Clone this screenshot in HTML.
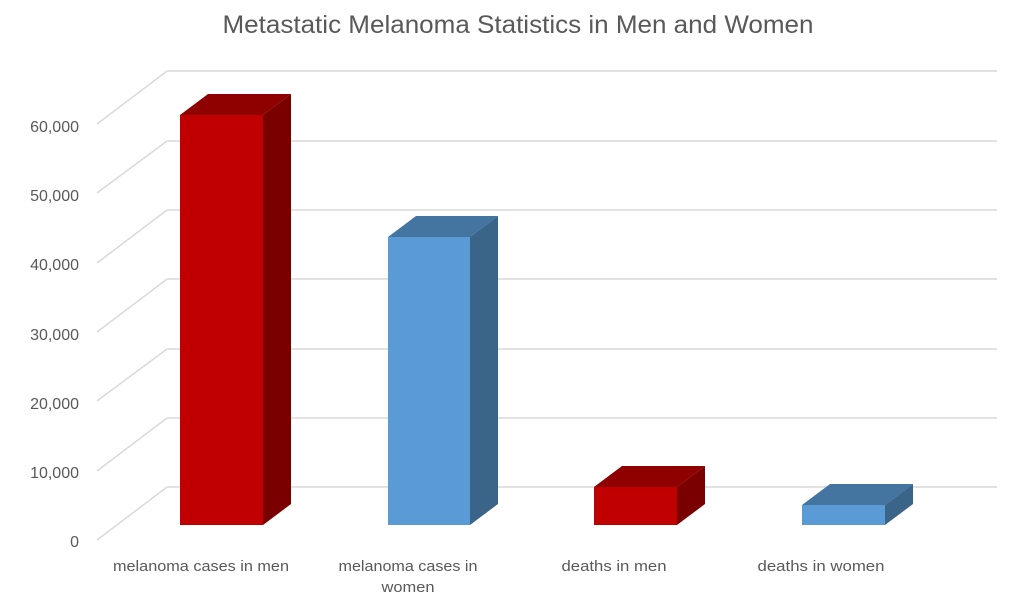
<!DOCTYPE html>
<html><head><meta charset="utf-8"><style>
html,body{margin:0;padding:0;background:#fff;}
svg{display:block;}
text{font-family:"Liberation Sans",sans-serif;fill:#595959;}
</style></head><body>
<svg width="1024" height="596" viewBox="0 0 1024 596" xmlns="http://www.w3.org/2000/svg">
<rect width="1024" height="596" fill="#fff"/>
<text x="518" y="33" font-size="25" text-anchor="middle" textLength="591" lengthAdjust="spacingAndGlyphs">Metastatic Melanoma Statistics in Men and Women</text>
<g stroke="#d9d9d9" stroke-width="1.5" fill="none">
<path d="M167 71H997M167 141H997M167 210H997M167 279H997M167 349H997M167 418H997M167 487H997"/>
<path d="M97 124L167 71M97 193L167 141M97 263L167 210M97 332L167 279M97 401L167 349M97 471L167 418M97 540L167 487"/>
</g>
<g font-size="16" text-anchor="end">
<text x="79" y="132">60,000</text>
<text x="79" y="201">50,000</text>
<text x="79" y="270">40,000</text>
<text x="79" y="340">30,000</text>
<text x="79" y="409">20,000</text>
<text x="79" y="478">10,000</text>
<text x="79" y="547">0</text>
</g>
<!-- bar1 -->
<polygon points="180,115 208,94 291,94 263,115" fill="#8f0000"/>
<polygon points="263,115 291,94 291,504 263,525" fill="#7a0000"/>
<rect x="180" y="115" width="83" height="410" fill="#c00000"/>
<!-- bar2 -->
<polygon points="388,237 416,216 498,216 470,237" fill="#4474a0"/>
<polygon points="470,237 498,216 498,504 470,525" fill="#3a6589"/>
<rect x="388" y="237" width="82" height="288" fill="#5b9bd5"/>
<!-- bar3 -->
<polygon points="594,487 622,466 705,466 677,487" fill="#8f0000"/>
<polygon points="677,487 705,466 705,504 677,525" fill="#7a0000"/>
<rect x="594" y="487" width="83" height="38" fill="#c00000"/>
<!-- bar4 -->
<polygon points="802,505 830,484 913,484 885,505" fill="#4474a0"/>
<polygon points="885,505 913,484 913,504 885,525" fill="#3a6589"/>
<rect x="802" y="505" width="83" height="20" fill="#5b9bd5"/>
<g font-size="15" text-anchor="middle">
<text x="201" y="571" textLength="176" lengthAdjust="spacingAndGlyphs">melanoma cases in men</text>
<text x="408" y="571" textLength="139" lengthAdjust="spacingAndGlyphs">melanoma cases in</text>
<text x="408" y="592" textLength="53" lengthAdjust="spacingAndGlyphs">women</text>
<text x="614" y="571" textLength="105" lengthAdjust="spacingAndGlyphs">deaths in men</text>
<text x="821" y="571" textLength="127" lengthAdjust="spacingAndGlyphs">deaths in women</text>
</g>
</svg>
</body></html>
